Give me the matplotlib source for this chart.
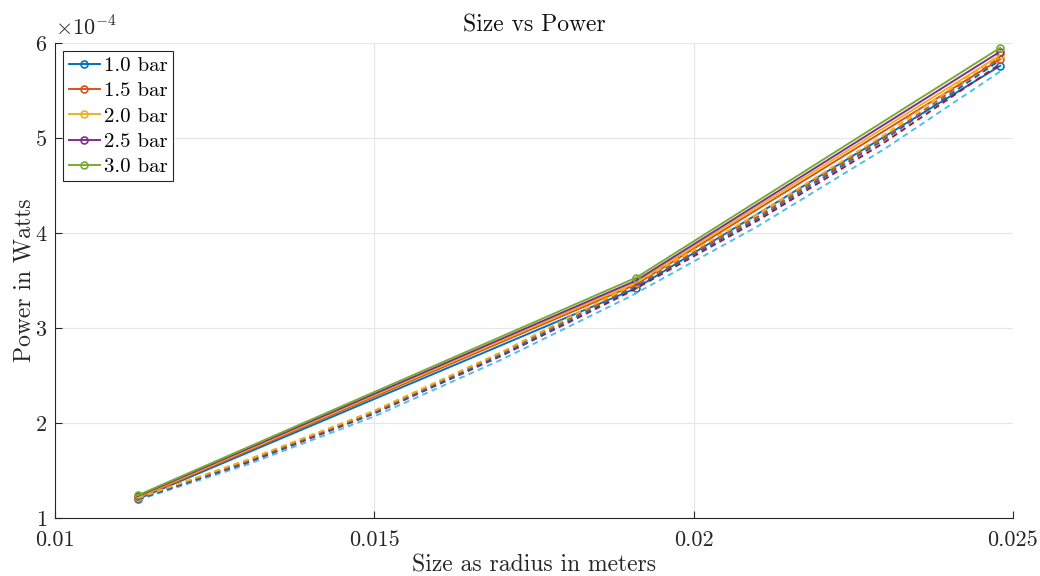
import numpy as np
import matplotlib
matplotlib.use("Agg")
import matplotlib.pyplot as plt
from matplotlib.ticker import FuncFormatter

# MATLAB default colour order
C = ['#0072BD', '#D95319', '#EDB120', '#7E2F8E', '#77AC30', '#4DBEEE', '#A2142F']

# radius in meters
radius = [0.0113, 0.0191, 0.0248]

# measured power (W), one row per pressure
labels = ['1.0 bar', '1.5 bar', '2.0 bar', '2.5 bar', '3.0 bar']
measured = [
    [1.20e-4, 3.42e-4, 5.76e-4],
    [1.21e-4, 3.46e-4, 5.83e-4],
    [1.22e-4, 3.48e-4, 5.87e-4],
    [1.23e-4, 3.50e-4, 5.91e-4],
    [1.24e-4, 3.53e-4, 5.95e-4],
]

# model curves (dashed, not in legend), read off at these radii
radius_model = [0.0113, 0.0130, 0.0150, 0.0170, 0.0190, 0.0210, 0.0230, 0.0248]
model = [
    [1.19e-4, 1.56e-4, 2.07e-4, 2.67e-4, 3.33e-4, 4.07e-4, 4.89e-4, 5.70e-4],
    [1.20e-4, 1.58e-4, 2.10e-4, 2.71e-4, 3.38e-4, 4.13e-4, 4.96e-4, 5.78e-4],
    [1.20e-4, 1.59e-4, 2.11e-4, 2.72e-4, 3.40e-4, 4.15e-4, 4.99e-4, 5.82e-4],
    [1.21e-4, 1.60e-4, 2.12e-4, 2.74e-4, 3.42e-4, 4.17e-4, 5.01e-4, 5.85e-4],
    [1.21e-4, 1.61e-4, 2.13e-4, 2.75e-4, 3.44e-4, 4.20e-4, 5.04e-4, 5.88e-4],
]

plt.rcParams['font.family'] = ['cmr10', 'DejaVu Serif']
plt.rcParams['mathtext.fontset'] = 'cm'

fig = plt.figure(figsize=(10.4, 5.76), dpi=100)
ax = fig.add_axes([0.0529, 0.1007, 0.974 - 0.0529, 0.8246])

for i in range(5):
    ax.plot(radius, measured[i], '-o', color=C[i], lw=1.4, ms=5,
            mfc='none', mew=1.2, label=labels[i])
for i in range(5):
    ax.plot(radius_model, model[i], color=C[(i + 5) % 7], lw=1.4,
            linestyle=(0, (3, 2.2)))

ax.set_xlim(0.01, 0.025)
ax.set_ylim(1e-4, 6e-4)
ax.set_xticks([0.01, 0.015, 0.02, 0.025])
ax.set_yticks(np.arange(1, 7) * 1e-4)
ax.xaxis.set_major_formatter(FuncFormatter(lambda v, p: f'{v:g}'))
ax.yaxis.set_major_formatter(FuncFormatter(lambda v, p: f'{v * 1e4:.0f}'))
ax.text(0.0, 1.008, r'$\times 10^{-4}$', transform=ax.transAxes,
        fontsize=16, ha='left', va='bottom', color='#262626')

ax.grid(True, color='#e6e6e6', lw=0.8)
ax.set_axisbelow(True)
for s in ['top', 'right']:
    ax.spines[s].set_visible(False)
for s in ['left', 'bottom']:
    ax.spines[s].set_color('#262626')
    ax.spines[s].set_linewidth(0.8)
ax.tick_params(direction='in', length=5, width=0.8, color='#262626',
               labelsize=16, labelcolor='#262626')
ax.tick_params(axis='x', pad=9)
ax.tick_params(axis='y', pad=6)

ax.set_title('Size vs Power', fontsize=17, color='#111111', pad=8)
ax.set_xlabel('Size as radius in meters', fontsize=17, color='#262626',
              labelpad=3)
ax.set_ylabel('Power in Watts', fontsize=17, color='#262626', labelpad=0)

leg = ax.legend(loc='upper left', fontsize=15, fancybox=False,
                edgecolor='#262626', framealpha=1, handlelength=1.5,
                borderaxespad=0.4, labelspacing=0.32, handletextpad=0.2,
                borderpad=0.25)
leg.get_frame().set_linewidth(0.8)

fig.savefig('out.png', dpi=100)
